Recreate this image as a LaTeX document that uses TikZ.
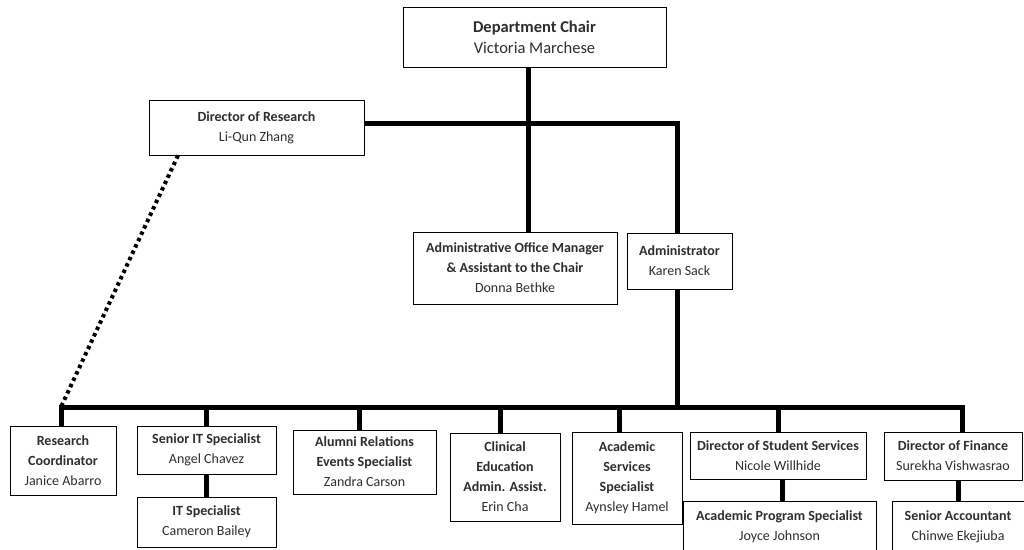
\documentclass[tikz,border=0pt]{standalone}
\usepackage{fontspec}
\setmainfont{Carlito}
\begin{document}
\begin{tikzpicture}[x=1pt,y=-1pt,
  box/.style={draw=black, line width=0.9pt, fill=white, align=center, inner sep=0pt,
    text=black!82, font=\fontsize{14}{20}\selectfont},
  bigbox/.style={box, font=\fontsize{16.5}{21}\selectfont},
  conn/.style={line width=5pt, line join=miter},
  dotconn/.style={line width=4pt, dash pattern=on 3.5pt off 3.5pt}]
\useasboundingbox (0,0) rectangle (1024,549);
\clip (0,0) rectangle (1024,549);
\fill[white] (0,0) rectangle (1024,549);

% nodes
\node[bigbox, minimum width=263pt, minimum height=60pt] (chair) at (534.5,37) {\textbf{Department Chair}\\Victoria Marchese};
\node[box, minimum width=215pt, minimum height=55pt] (dor) at (256.5,127.5) {\textbf{Director of Research}\\Li-Qun Zhang};
\node[box, minimum width=204pt, minimum height=72pt] (aom) at (515,268) {\textbf{Administrative Office Manager}\\\textbf{\& Assistant to the Chair}\\Donna Bethke};
\node[box, minimum width=105pt, minimum height=56pt] (adm) at (679.5,261) {\textbf{Administrator}\\Karen Sack};

\node[box, minimum width=106pt, minimum height=69pt] (rc) at (63,460.5) {\textbf{Research}\\\textbf{Coordinator}\\Janice Abarro};
\node[box, minimum width=139pt, minimum height=48pt] (sit) at (206.5,450) {\textbf{Senior IT Specialist}\\Angel Chavez};
\node[box, minimum width=139pt, minimum height=50pt] (its) at (206.5,522) {\textbf{IT Specialist}\\Cameron Bailey};
\node[box, minimum width=143pt, minimum height=64pt] (alu) at (364.5,462) {\textbf{Alumni Relations}\\\textbf{Events Specialist}\\Zandra Carson};
\node[box, minimum width=110pt, minimum height=88pt] (cli) at (505,477) {\textbf{Clinical}\\\textbf{Education}\\\textbf{Admin. Assist.}\\Erin Cha};
\node[box, minimum width=110pt, minimum height=92pt] (acs) at (627,478) {\textbf{Academic}\\\textbf{Services}\\\textbf{Specialist}\\Aynsley Hamel};
\node[box, minimum width=176pt, minimum height=47pt] (dss) at (778,455.5) {\textbf{Director of Student Services}\\Nicole Willhide};
\node[box, minimum width=193pt, minimum height=52pt] (aps) at (779.5,527) {\textbf{Academic Program Specialist}\\Joyce Johnson};
\node[box, minimum width=138pt, minimum height=48pt] (dfi) at (953,456) {\textbf{Director of Finance}\\Surekha Vishwasrao};
\node[box, minimum width=132pt, minimum height=52pt] (sac) at (958,527) {\textbf{Senior Accountant}\\Chinwe Ekejiuba};

% junction coordinates
\coordinate (jc) at (528,123);
\coordinate (jr) at (677,123);
\coordinate (ja) at (677,407);
\coordinate (busL) at (61,407);
\coordinate (busR) at (962,407);
\coordinate (dotx) at (178,0);
\coordinate (xalu) at (359,0);
\coordinate (xcli) at (500,0);
\coordinate (xacs) at (619,0);
\coordinate (xaps) at (782,0);

% connectors
\draw[conn] (chair.south -| jc) -- (aom.north -| jc);
\draw[conn] (dor.east |- jc) -- (jr) -- (adm.north -| jr);
\draw[conn] (adm.south -| ja) -- (ja);
\draw[conn] (rc.north -| busL) -- (busL) -- (busR) -- (dfi.north -| busR);
\draw[conn] (sit.north) -- (sit.north |- busL);
\draw[conn] (alu.north -| xalu) -- (busL -| xalu);
\draw[conn] (cli.north -| xcli) -- (busL -| xcli);
\draw[conn] (acs.north -| xacs) -- (busL -| xacs);
\draw[conn] (dss.north) -- (dss.north |- busL);
\draw[conn] (sit.south) -- (its.north);
\draw[conn] (dss.south -| xaps) -- (aps.north -| xaps);
\draw[conn] (dfi.south -| sac.north) -- (sac.north);
\draw[dotconn] (dor.south -| dotx) -- (busL);
\end{tikzpicture}
\end{document}
